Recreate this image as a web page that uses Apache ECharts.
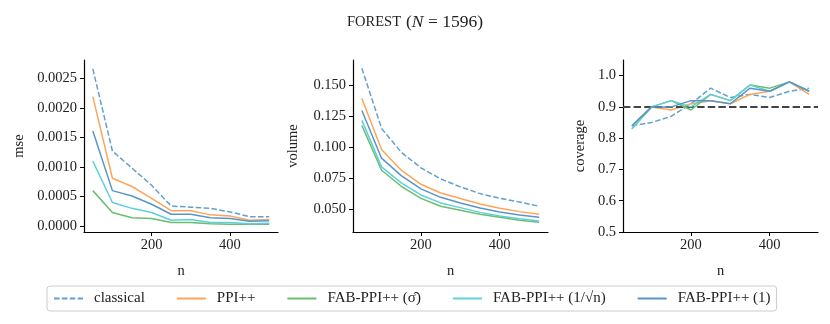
<!DOCTYPE html>
<html>
<head>
<meta charset="utf-8">
<script src="https://cdn.jsdelivr.net/npm/echarts@6/dist/echarts.min.js"></script>
<style>html,body{margin:0;padding:0;background:#fff}#c{width:830px;height:324px}</style>
</head>
<body>
<div id="c"></div>
<script>
var nVals = [50, 100, 150, 200, 250, 300, 350, 400, 450, 500];
var seriesNames = ['classical', 'PPI++', 'FAB-PPI++ (σ̂)', 'FAB-PPI++ (1/√n)', 'FAB-PPI++ (1)'];

var mseClassical = [0.00266, 0.00127, 0.00098, 0.00069, 0.00034, 0.00032, 0.00030, 0.00024, 0.00016, 0.00016];
var msePPI       = [0.00219, 0.00081, 0.00067, 0.00047, 0.00026, 0.00026, 0.00019, 0.00017, 0.00010, 0.00011];
var mseFabSigma  = [0.00060, 0.00023, 0.00014, 0.00013, 0.00006, 0.00006, 0.00004, 0.00003, 0.00003, 0.00003];
var mseFabSqrt   = [0.00110, 0.00040, 0.00030, 0.00023, 0.00010, 0.00011, 0.00006, 0.00006, 0.00004, 0.00005];
var mseFabOne    = [0.00161, 0.00060, 0.00051, 0.00037, 0.00020, 0.00020, 0.00014, 0.00013, 0.00008, 0.00009];

var volClassical = [0.1637, 0.1153, 0.0962, 0.0836, 0.0747, 0.0683, 0.0629, 0.0591, 0.0562, 0.0527];
var volPPI       = [0.1395, 0.0984, 0.0817, 0.0704, 0.0634, 0.0589, 0.0546, 0.0511, 0.0484, 0.0462];
var volFabSigma  = [0.1177, 0.0817, 0.0688, 0.0591, 0.0527, 0.0495, 0.0462, 0.0438, 0.0414, 0.0398];
var volFabSqrt   = [0.1218, 0.0844, 0.0715, 0.0618, 0.0554, 0.0516, 0.0478, 0.0449, 0.0427, 0.0409];
var volFabOne    = [0.1298, 0.0914, 0.0774, 0.0667, 0.0599, 0.0554, 0.0513, 0.0481, 0.0457, 0.0438];

var covClassical = [0.84, 0.85, 0.87, 0.91, 0.96, 0.93, 0.94, 0.93, 0.95, 0.96];
var covPPI       = [0.84, 0.90, 0.89, 0.91, 0.92, 0.91, 0.94, 0.95, 0.98, 0.94];
var covFabSigma  = [0.83, 0.90, 0.92, 0.89, 0.94, 0.92, 0.97, 0.96, 0.98, 0.95];
var covFabSqrt   = [0.83, 0.90, 0.92, 0.90, 0.94, 0.92, 0.97, 0.95, 0.98, 0.95];
var covFabOne    = [0.84, 0.90, 0.90, 0.92, 0.92, 0.91, 0.96, 0.95, 0.98, 0.95];
var nominalCoverage = 0.9;

var xTicks = [200, 400];
var mseTicks = [0, 0.0005, 0.001, 0.0015, 0.002, 0.0025];
var volTicks = [0.05, 0.075, 0.1, 0.125, 0.15];
var covTicks = [0.5, 0.6, 0.7, 0.8, 0.9, 1.0];

var colors = ['#62a0cf', '#ffa55a', '#6cbd6c', '#5ed0dc', '#5b95c6'];
var FONT = 'Liberation Serif';

var grids = [
  {left: 84, top: 60, width: 194, height: 172},
  {left: 353, top: 60, width: 195, height: 172},
  {left: 623, top: 60, width: 195, height: 172}
];

function xAxis(i) {
  return {
    type: 'value', gridIndex: i, min: 27.5, max: 522.5,
    name: 'n', nameLocation: 'middle', nameGap: 32,
    nameTextStyle: {fontFamily: FONT, fontSize: 14.5, color: '#222'},
    splitLine: {show: false},
    axisLine: {onZero: false, lineStyle: {color: '#000', width: 1.2}},
    axisTick: {length: 4, lineStyle: {color: '#000', width: 1}, customValues: xTicks},
    axisLabel: {fontFamily: FONT, fontSize: 14.5, color: '#222', margin: 6, customValues: xTicks}
  };
}
function yAxis(i, mn, mx, ticks, name, gap, dec) {
  return {
    type: 'value', gridIndex: i, min: mn, max: mx,
    name: name, nameLocation: 'middle', nameGap: gap, nameRotate: 90,
    nameTextStyle: {fontFamily: FONT, fontSize: 14.5, color: '#222'},
    splitLine: {show: false},
    axisLine: {onZero: false, lineStyle: {color: '#000', width: 1.2}},
    axisTick: {length: 4, lineStyle: {color: '#000', width: 1}, customValues: ticks},
    axisLabel: {fontFamily: FONT, fontSize: 14.5, color: '#222', margin: 7,
      customValues: ticks, formatter: function (v) { return v.toFixed(dec); }}
  };
}

function pairs(ys) { return nVals.map(function (x, k) { return [x, ys[k]]; }); }

var sets = [
  [mseClassical, msePPI, mseFabSigma, mseFabSqrt, mseFabOne],
  [volClassical, volPPI, volFabSigma, volFabSqrt, volFabOne],
  [covClassical, covPPI, covFabSigma, covFabSqrt, covFabOne]
];
var series = [];
sets.forEach(function (set, g) {
  set.forEach(function (ys, s) {
    series.push({
      type: 'line', name: seriesNames[s], xAxisIndex: g, yAxisIndex: g,
      data: pairs(ys), showSymbol: false, symbol: 'none', animation: false,
      lineStyle: {color: colors[s], width: 1.5, type: s === 0 ? [5.5, 2.4] : 'solid'},
      itemStyle: {color: colors[s]}, z: 3 + s
    });
  });
});
series.push({
  type: 'line', xAxisIndex: 2, yAxisIndex: 2, data: [], animation: false, silent: true,
  markLine: {symbol: 'none', silent: true, label: {show: false}, animation: false,
    lineStyle: {color: '#444', width: 2, type: [7.4, 3.2]},
    data: [{yAxis: nominalCoverage}]}
});

var chart = echarts.init(document.getElementById('c'), null, {renderer: 'canvas'});
chart.setOption({
  backgroundColor: '#fff',
  animation: false,
  title: {
    text: '{sc|FOREST} {n|(}{it|N}{n| = 1596)}',
    left: 'center', top: 8,
    textStyle: {fontWeight: 'normal', rich: {
      sc: {fontFamily: FONT, fontSize: 14.5, fontWeight: 'normal', color: '#222'},
      n: {fontFamily: FONT, fontSize: 17.5, fontWeight: 'normal', color: '#222'},
      it: {fontFamily: FONT, fontSize: 17.5, fontWeight: 'normal', fontStyle: 'italic', color: '#222'}
    }}
  },
  grid: grids,
  xAxis: [xAxis(0), xAxis(1), xAxis(2)],
  yAxis: [
    yAxis(0, -0.0001, 0.00281, mseTicks, 'mse', 57, 4),
    yAxis(1, 0.032, 0.1704, volTicks, 'volume', 52, 3),
    yAxis(2, 0.5, 1.05, covTicks, 'coverage', 35, 1)
  ],
  legend: {
    data: seriesNames,
    left: 47, top: 286,
    orient: 'horizontal',
    itemWidth: 29, itemHeight: 12, itemGap: 31,
    itemStyle: {opacity: 0, borderWidth: 0},
    borderColor: '#ccc', borderWidth: 1, borderRadius: 3,
    padding: [5, 6, 5, 6],
    textStyle: {fontFamily: FONT, fontSize: 15, color: '#222', padding: [0, 0, 0, 6]}
  },
  series: series
});
</script>
</body>
</html>
